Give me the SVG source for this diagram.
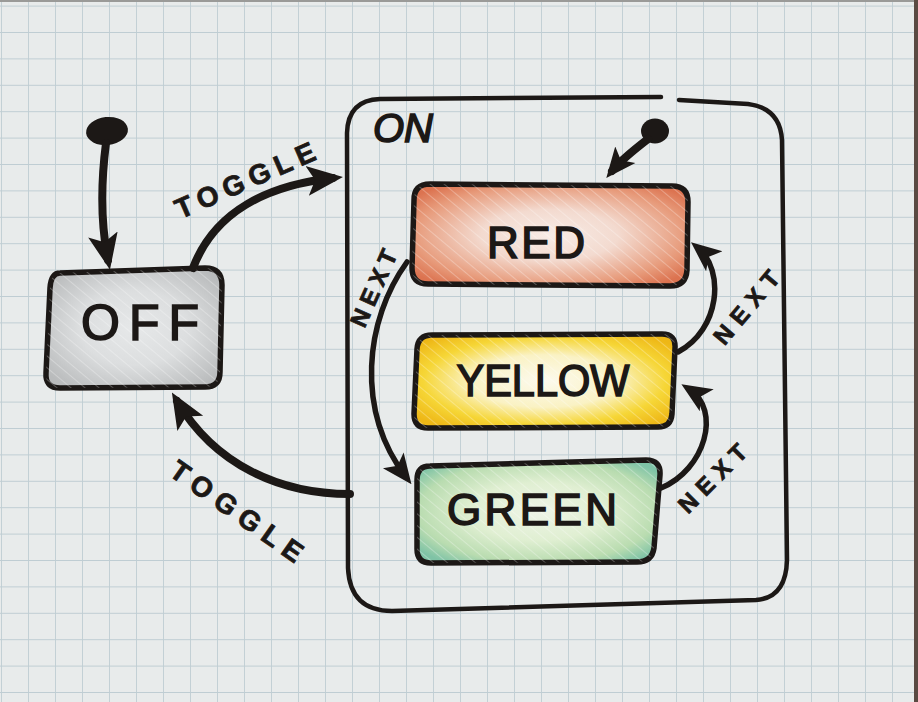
<svg xmlns="http://www.w3.org/2000/svg" width="918" height="702" viewBox="0 0 918 702">
<defs>
  <pattern id="grid" x="1" y="5.6" width="27" height="26.4" patternUnits="userSpaceOnUse">
    <path d="M0 0 H27 M0 0 V26.4" fill="none" stroke="#bfcdd3" stroke-width="1.8"/>
  </pattern>
  <pattern id="hatch" width="9" height="9" patternUnits="userSpaceOnUse" patternTransform="rotate(-50)">
    <line x1="0" y1="0" x2="0" y2="9" stroke="#ffffff" stroke-width="2" stroke-opacity="0.28"/>
  </pattern>
  <radialGradient id="gOff" cx="50%" cy="50%" r="62%">
    <stop offset="0" stop-color="#e6e8e9"/>
    <stop offset="0.5" stop-color="#dcdedf"/>
    <stop offset="1" stop-color="#b9bbbc"/>
  </radialGradient>
  <radialGradient id="gRed" cx="50%" cy="50%" r="62%">
    <stop offset="0" stop-color="#f7ece6"/>
    <stop offset="0.4" stop-color="#f3dacf"/>
    <stop offset="0.8" stop-color="#e79a7a"/>
    <stop offset="1" stop-color="#dc7350"/>
  </radialGradient>
  <radialGradient id="gYel" cx="50%" cy="50%" r="62%">
    <stop offset="0" stop-color="#fcfaee"/>
    <stop offset="0.45" stop-color="#faf2c4"/>
    <stop offset="0.75" stop-color="#f6d636"/>
    <stop offset="1" stop-color="#eeb716"/>
  </radialGradient>
  <radialGradient id="gGrn" cx="50%" cy="50%" r="62%">
    <stop offset="0" stop-color="#eef4e6"/>
    <stop offset="0.45" stop-color="#e0efd2"/>
    <stop offset="0.8" stop-color="#b9dcb0"/>
    <stop offset="1" stop-color="#7fc3a6"/>
  </radialGradient>
  <marker id="arrow" viewBox="0 0 36 32" refX="26" refY="16" markerWidth="36" markerHeight="32" markerUnits="userSpaceOnUse" orient="auto">
    <path d="M0 1 L36 16 L0 31 L8 16 Z" fill="#1c1816"/>
  </marker>
  <marker id="arrowS" viewBox="0 0 30 28" refX="21" refY="14" markerWidth="30" markerHeight="28" markerUnits="userSpaceOnUse" orient="auto">
    <path d="M0 1 L30 14 L0 27 L7 14 Z" fill="#1c1816"/>
  </marker>
</defs>
<style>
  .ink { fill: none; stroke: #1c1816; stroke-linecap: round; stroke-linejoin: round; }
  .box { stroke: #1c1816; stroke-width: 5.5; stroke-linejoin: round; }
  .thick { stroke-width: 8; }
  .mid { stroke-width: 5.5; }
  .title { font-family: "Liberation Sans", Arial, sans-serif; fill: #1c1816; stroke: #1c1816; stroke-width: 1.6; text-anchor: middle; }
  .lbl { font-family: "Liberation Sans", Arial, sans-serif; font-weight: bold; fill: #1c1816; stroke: #1c1816; stroke-width: 0.8; text-anchor: middle; }
</style>

<rect x="0" y="0" width="918" height="702" fill="#e8ebeb"/>
<rect x="0" y="0" width="918" height="702" fill="url(#grid)"/>
<rect x="0" y="0" width="918" height="2" fill="#9a9a98"/>
<rect x="914" y="0" width="4" height="702" fill="#5a4a42"/>

<g id="on-state">
  <path class="ink" stroke-width="4.5" d="M661 97 L380 99 Q348 100 347 133 L348 568 Q350 611 392 611 L756 600 Q786 598 787 560 L782 140 Q780 108 748 104 L679 100"/>
  <text class="title" font-style="italic" x="403" y="142" font-size="40" textLength="60" lengthAdjust="spacingAndGlyphs">ON</text>
</g>

<g id="off-initial">
  <ellipse cx="107" cy="131" rx="21" ry="14" fill="#1c1816" transform="rotate(-6 107 131)"/>
</g>
<g id="on-initial">
  <ellipse cx="655" cy="131" rx="14" ry="12.5" fill="#1c1816"/>
</g>

<g id="off">
  <path class="box" fill="url(#gOff)" d="M60 273 L205 268 Q222 268 222 285 L220 372 Q220 387 205 387 L60 388 Q45 388 46 373 L50 288 Q51 273 60 273 Z"/>
  <path fill="url(#hatch)" d="M60 273 L205 268 Q222 268 222 285 L220 372 Q220 387 205 387 L60 388 Q45 388 46 373 L50 288 Q51 273 60 273 Z"/>
  <text class="title" x="140" y="340" font-size="50" textLength="118" lengthAdjust="spacing">OFF</text>
</g>

<g id="red">
  <path class="box" fill="url(#gRed)" d="M430 184 L672 186 Q688 186 688 202 L687 270 Q686 286 670 286 L428 284 Q412 284 412 268 L414 200 Q414 184 430 184 Z"/>
  <path fill="url(#hatch)" d="M430 184 L672 186 Q688 186 688 202 L687 270 Q686 286 670 286 L428 284 Q412 284 412 268 L414 200 Q414 184 430 184 Z"/>
  <text class="title" x="536" y="258" font-size="44" textLength="98" lengthAdjust="spacing">RED</text>
</g>

<g id="yellow">
  <path class="box" fill="url(#gYel)" d="M432 335 L662 334 Q676 334 675 348 L672 414 Q671 427 658 427 L428 428 Q414 428 414 414 L417 349 Q418 335 432 335 Z"/>
  <path fill="url(#hatch)" d="M432 335 L662 334 Q676 334 675 348 L672 414 Q671 427 658 427 L428 428 Q414 428 414 414 L417 349 Q418 335 432 335 Z"/>
  <text class="title" x="543" y="396" font-size="44" textLength="173" lengthAdjust="spacingAndGlyphs">YELLOW</text>
</g>

<g id="green">
  <path class="box" fill="url(#gGrn)" d="M430 466 L646 460 Q661 460 660 475 L654 548 Q652 562 637 562 L431 563 Q417 563 417 549 L417 480 Q417 466 430 466 Z"/>
  <path fill="url(#hatch)" d="M430 466 L646 460 Q661 460 660 475 L654 548 Q652 562 637 562 L431 563 Q417 563 417 549 L417 480 Q417 466 430 466 Z"/>
  <text class="title" x="532" y="525" font-size="44" textLength="170" lengthAdjust="spacing">GREEN</text>
</g>

<g id="connectors">
  <path class="ink thick" marker-end="url(#arrow)" d="M106 143 C100 190 102 230 108 260"/>
  <path class="ink thick" marker-end="url(#arrow)" d="M193 268 C215 210 270 185 333 178"/>
  <path class="ink thick" marker-end="url(#arrow)" d="M350 494 C280 494 215 465 177 401"/>
  <path class="ink thick" marker-end="url(#arrowS)" d="M648 139 C635 149 621 160 612 171"/>
  <path class="ink mid" marker-end="url(#arrowS)" d="M407 262 C365 320 355 410 406 477"/>
  <path class="ink mid" marker-end="url(#arrowS)" d="M678 352 C720 330 725 270 698 248"/>
  <path class="ink mid" marker-end="url(#arrowS)" d="M661 488 C705 470 722 410 689 389"/>

  <text class="lbl" font-size="28" transform="translate(245 180) rotate(-23.6)" x="0" y="10" textLength="150" lengthAdjust="spacing">TOGGLE</text>
  <text class="lbl" font-size="28" transform="translate(237 511) rotate(35)" x="0" y="10" textLength="155" lengthAdjust="spacing">TOGGLE</text>
  <text class="lbl" font-size="24" transform="translate(373 288) rotate(-66)" x="0" y="9" textLength="82" lengthAdjust="spacing">NEXT</text>
  <text class="lbl" font-size="24" transform="translate(746 307) rotate(-50)" x="0" y="9" textLength="88" lengthAdjust="spacing">NEXT</text>
  <text class="lbl" font-size="24" transform="translate(712 478) rotate(-45)" x="0" y="9" textLength="86" lengthAdjust="spacing">NEXT</text>
</g>
</svg>
